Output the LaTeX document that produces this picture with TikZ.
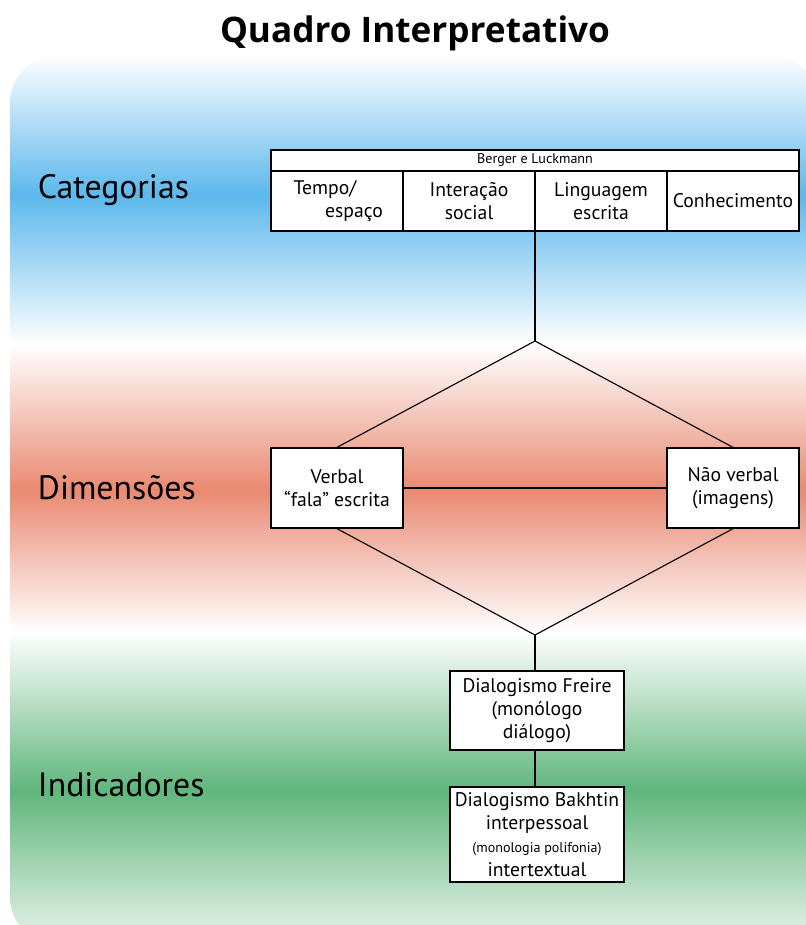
\documentclass[tikz,border=0pt]{standalone}
\usepackage{fontspec}
\setmainfont{PT Sans}
\newfontfamily\titulofont{Open Sans}
\usetikzlibrary{calc}
\definecolor{azul}{RGB}{92,184,236}
\definecolor{salmao}{RGB}{233,138,114}
\definecolor{verde}{RGB}{96,182,124}
\definecolor{verdeclaro}{RGB}{236,245,238}

\tikzset{
  caixa/.style={draw=black, fill=white, line width=0.9pt, align=center, inner sep=2pt, font=\fontsize{14}{16.5}\selectfont},
  celula/.style={caixa, minimum width=3.3cm, minimum height=1.5cm},
  nivel/.style={anchor=west, font=\fontsize{24}{26}\selectfont},
  liga/.style={draw=black, line width=0.8pt}
}

\begin{document}
\begin{tikzpicture}[x=0.025cm, y=-0.025cm]

    \useasboundingbox (0,0) rectangle (805,925);

    % fundo em faixas
    \begin{scope}
    \clip[rounded corners=1.2cm] (10,55) rectangle (818,945);
    \shade[top color=white, bottom color=azul] (0,55) rectangle (820,195);
    \shade[top color=azul, bottom color=white] (0,195) rectangle (820,345);
    \shade[top color=white, bottom color=salmao] (0,345) rectangle (820,490);
    \shade[top color=salmao, bottom color=white] (0,490) rectangle (820,632);
    \shade[top color=white, bottom color=verde] (0,632) rectangle (820,790);
    \shade[top color=verde, bottom color=verdeclaro] (0,790) rectangle (820,945);
    \end{scope}

    \node[font=\titulofont\fontsize{25}{28}\bfseries] (titulo) at (415,33) {Quadro Interpretativo};

    \node[nivel] (categorias) at (33,190) {Categorias};
    \node[nivel] (dimensoes) at (33,488) {Dimensões};
    \node[nivel] (indicadores) at (33,785) {Indicadores};

    % tabela de Berger e Luckmann
    \node[caixa, minimum width=13.2cm, minimum height=0.525cm, inner sep=0pt, font=\fontsize{10}{12}\selectfont] (berger) at (535,160.5) {Berger e Luckmann};
    \node[celula] (tempo) at (337,201) {Tempo/\hspace*{0.6cm}\\ \hspace*{0.85cm}espaço};
    \node[celula] (interacao) at (469,201) {Interação\\social};
    \node[celula] (linguagem) at (601,201) {Linguagem\\escrita};
    \node[celula] (conhecimento) at (733,201) {Conhecimento};

    \coordinate (topo) at (535,341);
    \coordinate (base) at (535,635);

    \node[celula, minimum height=2cm] (verbal) at (337,488) {Verbal\\``fala'' escrita};
    \node[celula, minimum height=2cm] (naoverbal) at (733,488) {Não verbal\\(imagens)};

    \node[caixa, minimum width=4.35cm, minimum height=1.975cm] (freire) at (537,710.5) {Dialogismo Freire\\(monólogo\\diálogo)};
    \node[caixa, minimum width=4.35cm, minimum height=2.375cm] (bakhtin) at (537,834.5) {Dialogismo Bakhtin\\interpessoal\\{\fontsize{10}{11}\selectfont(monologia polifonia)}\\intertextual};

    \draw[liga] (topo |- interacao.south) -- (topo);
    \draw[liga] (topo) -- (verbal.north);
    \draw[liga] (topo) -- (naoverbal.north);
    \draw[liga] (verbal) -- (naoverbal);
    \draw[liga] (verbal.south) -- (base);
    \draw[liga] (naoverbal.south) -- (base);
    \draw[liga] (base) -- (base |- freire.north);
    \draw[liga] (freire.south -| base) -- (base |- bakhtin.north);

\end{tikzpicture}
\end{document}
